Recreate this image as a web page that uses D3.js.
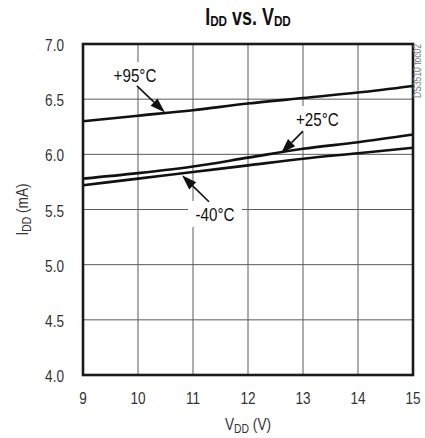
<!DOCTYPE html>
<html>
<head>
<meta charset="utf-8">
<script src="https://cdn.jsdelivr.net/npm/d3@7"></script>
<style>
  html, body { margin: 0; padding: 0; background: #fff; }
  svg { display: block; }
  text { font-family: "Liberation Sans", Arial, sans-serif; }
</style>
</head>
<body>
<script>
var width = 425;
var height = 438;

// data
var vdd = [9, 10, 11, 12, 13, 14, 15];
var idd95 = [6.30, 6.35, 6.40, 6.46, 6.51, 6.56, 6.62];
var idd25 = [5.78, 5.83, 5.89, 5.97, 6.05, 6.11, 6.18];
var iddM40 = [5.72, 5.78, 5.84, 5.90, 5.96, 6.01, 6.06];

var xTicks = [9, 10, 11, 12, 13, 14, 15];
var yTicks = [4.0, 4.5, 5.0, 5.5, 6.0, 6.5, 7.0];

// label text, text anchor point, arrow tail, arrow tip (data units)
var labels = ["+95°C", "+25°C", "-40°C"];
var labelPos = [[9.945, 6.656], [13.26, 6.257], [11.4, 5.396]];
var arrowFrom = [[9.98, 6.62], [13.0, 6.21], [11.29, 5.57]];
var arrowTo = [[10.49, 6.38], [12.6, 6.01], [10.80, 5.81]];

var margin = { top: 44, right: 12, bottom: 63, left: 83 };
var narrow = 0.8; // squeeze Liberation Sans to look like Helvetica Narrow

var x = d3.scaleLinear().domain([9, 15]).range([margin.left, width - margin.right]);
var y = d3.scaleLinear().domain([4, 7]).range([height - margin.bottom, margin.top]);

var svg = d3.select("body").append("svg")
    .attr("width", width)
    .attr("height", height)
    .attr("xmlns", "http://www.w3.org/2000/svg");

function place(px, py) {
  return "translate(" + px + "," + py + ")scale(" + narrow + ",1)";
}

// grid
svg.append("g")
    .selectAll("line")
    .data(xTicks.slice(1, -1))
    .enter().append("line")
    .attr("x1", d => x(d)).attr("x2", d => x(d))
    .attr("y1", y(4)).attr("y2", y(7))
    .attr("stroke", "#5a5a5a").attr("stroke-width", 1);

svg.append("g")
    .selectAll("line")
    .data(yTicks.slice(1, -1))
    .enter().append("line")
    .attr("x1", x(9)).attr("x2", x(15))
    .attr("y1", d => y(d)).attr("y2", d => y(d))
    .attr("stroke", "#5a5a5a").attr("stroke-width", 1);

// white boxes behind the labels hide the grid
svg.append("g")
    .selectAll("rect")
    .data(labels)
    .enter().append("rect")
    .attr("x", (d, i) => x(labelPos[i][0]) - 27)
    .attr("y", (d, i) => y(labelPos[i][1]) - 20)
    .attr("width", 54)
    .attr("height", 26)
    .attr("fill", "#fff");

// curves
var line = d3.line()
    .x(d => x(d[0]))
    .y(d => y(d[1]))
    .curve(d3.curveMonotoneX);

[idd95, idd25, iddM40].forEach(function(s) {
  svg.append("path")
      .datum(vdd.map((v, i) => [v, s[i]]))
      .attr("d", line)
      .attr("fill", "none")
      .attr("stroke", "#111")
      .attr("stroke-width", 2.6);
});

// frame
svg.append("rect")
    .attr("x", x(9)).attr("y", y(7))
    .attr("width", x(15) - x(9)).attr("height", y(4) - y(7))
    .attr("fill", "none")
    .attr("stroke", "#1a1a1a")
    .attr("stroke-width", 2.6);

// annotations
svg.append("g")
    .selectAll("text")
    .data(labels)
    .enter().append("text")
    .attr("transform", (d, i) => place(x(labelPos[i][0]), y(labelPos[i][1])))
    .attr("text-anchor", "middle")
    .attr("font-size", 19)
    .attr("fill", "#111")
    .text(d => d);

labels.forEach(function(d, i) {
  var x0 = x(arrowFrom[i][0]), y0 = y(arrowFrom[i][1]);
  var x1 = x(arrowTo[i][0]), y1 = y(arrowTo[i][1]);
  var a = Math.atan2(y1 - y0, x1 - x0);
  var len = 15, half = 5;
  var bx = x1 - len * Math.cos(a), by = y1 - len * Math.sin(a);
  svg.append("line")
      .attr("x1", x0).attr("y1", y0).attr("x2", bx).attr("y2", by)
      .attr("stroke", "#111").attr("stroke-width", 1.6);
  svg.append("path")
      .attr("d", "M" + x1 + "," + y1 +
                 "L" + (bx + half * Math.sin(a)) + "," + (by - half * Math.cos(a)) +
                 "L" + (bx - half * Math.sin(a)) + "," + (by + half * Math.cos(a)) + "Z")
      .attr("fill", "#111");
});

// tick labels
svg.append("g")
    .selectAll("text")
    .data(yTicks)
    .enter().append("text")
    .attr("transform", d => place(x(9) - 19, y(d) + 7))
    .attr("text-anchor", "end")
    .attr("font-size", 17)
    .attr("fill", "#333")
    .text(d => d.toFixed(1));

svg.append("g")
    .selectAll("text")
    .data(xTicks)
    .enter().append("text")
    .attr("transform", d => place(x(d), y(4) + 29))
    .attr("text-anchor", "middle")
    .attr("font-size", 17)
    .attr("fill", "#333")
    .text(d => d);

// title
var title = svg.append("text")
    .attr("transform", "translate(" + ((x(9) + x(15)) / 2) + ",25)scale(0.78,1)")
    .attr("text-anchor", "middle")
    .attr("font-weight", "bold")
    .attr("font-size", 23)
    .attr("fill", "#111");
title.append("tspan").text("I");
title.append("tspan").attr("font-size", 15).attr("dy", 1).text("DD");
title.append("tspan").attr("dy", -1).text(" vs. V");
title.append("tspan").attr("font-size", 15).attr("dy", 1).text("DD");

// axis titles
var xt = svg.append("text")
    .attr("transform", place((x(9) + x(15)) / 2, 430))
    .attr("text-anchor", "middle")
    .attr("font-size", 17)
    .attr("fill", "#333");
xt.append("tspan").text("V");
xt.append("tspan").attr("font-size", 13).attr("dy", 3).text("DD");
xt.append("tspan").attr("dy", -3).text(" (V)");

var yt = svg.append("text")
    .attr("transform", "translate(28," + ((y(4) + y(7)) / 2) + ")rotate(-90)scale(" + narrow + ",1)")
    .attr("text-anchor", "middle")
    .attr("font-size", 17)
    .attr("fill", "#333");
yt.append("tspan").text("I");
yt.append("tspan").attr("font-size", 13).attr("dy", 3).text("DD");
yt.append("tspan").attr("dy", -3).text(" (mA)");

// figure code on the right edge
svg.append("text")
    .attr("transform", "translate(421," + (y(7) + 27) + ")rotate(-90)scale(0.85,1)")
    .attr("text-anchor", "middle")
    .attr("font-size", 10)
    .attr("fill", "#777")
    .text("DS3510 toc02");
</script>
</body>
</html>
